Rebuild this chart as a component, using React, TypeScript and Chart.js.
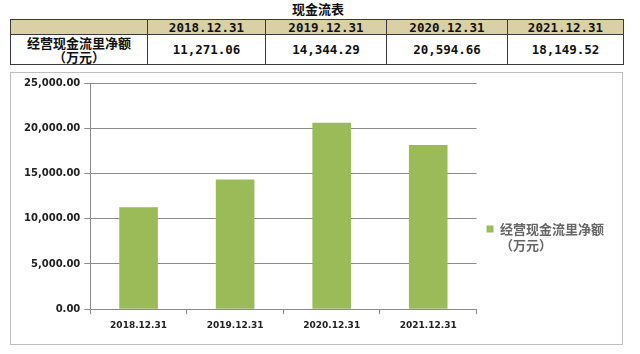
import React, { useEffect, useRef } from "react";
import { Chart, registerables } from "chart.js";

Chart.register(...registerables);

const title = "现金流表";
const rowLabelLines = ["经营现金流里净额", "（万元）"];
const categories = ["2018.12.31", "2019.12.31", "2020.12.31", "2021.12.31"];
const values = [11271.06, 14344.29, 20594.66, 18149.52];
const valueTexts = ["11,271.06", "14,344.29", "20,594.66", "18,149.52"];
const yMin = 0;
const yMax = 25000;
const yStep = 5000;

const GREEN = "#9BBB59";
const GRID = "#8C8C8C";
const HEADER_BG = "#D9D0A6";
const TABLE_BORDER = "#3A3A3A";

function fmt(v: number) {
  return v.toLocaleString("en-US", { minimumFractionDigits: 2, maximumFractionDigits: 2 });
}

export default function App() {
  const ref = useRef<HTMLCanvasElement | null>(null);

  useEffect(() => {
    if (!ref.current) return;
    const chart = new Chart(ref.current, {
      type: "bar",
      data: {
        labels: categories,
        datasets: [
          {
            label: rowLabelLines.join(""),
            data: values,
            backgroundColor: GREEN,
            borderWidth: 0,
            barPercentage: 0.4,
            categoryPercentage: 1,
          },
        ],
      },
      options: {
        responsive: false,
        animation: false,
        layout: { padding: { left: 9, top: 4, right: 8, bottom: 7 } },
        plugins: {
          tooltip: { enabled: false },
          legend: {
            position: "right",
            align: "center",
            title: { display: true, text: "", padding: { top: 48, bottom: 0 } },
            labels: {
              boxWidth: 7,
              boxHeight: 7,
              padding: 10,
              color: "#1a1a1a",
              font: { family: "'Noto Sans CJK SC'", size: 13, weight: "700" },
              generateLabels: () => [
                {
                  text: rowLabelLines as any,
                  fillStyle: GREEN,
                  strokeStyle: GREEN,
                  lineWidth: 0,
                  hidden: false,
                  datasetIndex: 0,
                } as any,
              ],
            },
          },
        },
        scales: {
          x: {
            offset: true,
            grid: {
              display: true,
              drawOnChartArea: false,
              drawTicks: true,
              tickLength: 5,
              color: GRID,
              offset: true,
            },
            border: { display: true, color: GRID },
            ticks: {
              color: "#222",
              padding: 6,
              maxRotation: 0,
              font: { family: "'DejaVu Sans'", size: 9, weight: "bold" },
            },
          },
          y: {
            min: yMin,
            max: yMax,
            grid: { color: GRID, tickLength: 6, drawTicks: true },
            border: { display: true, color: GRID },
            ticks: {
              stepSize: yStep,
              color: "#222",
              padding: 4,
              font: { family: "'DejaVu Sans'", size: 10, weight: "bold" },
              callback: (v: any) => fmt(Number(v)),
            },
          },
        },
      },
    });
    return () => chart.destroy();
  }, []);

  const colWidths = [137, 118, 121, 121, 116];
  const cellBase: React.CSSProperties = {
    border: `1px solid ${TABLE_BORDER}`,
    padding: 0,
    textAlign: "center",
    verticalAlign: "middle",
    fontWeight: "bold",
    color: "#111",
  };
  const monoFont = "'DejaVu Sans Mono', 'Liberation Mono', monospace";
  const cjkFont = "'Noto Sans CJK SC', sans-serif";

  return (
    <div
      style={{
        position: "fixed",
        left: 0,
        top: 0,
        width: 640,
        height: 354,
        background: "#fff",
        overflow: "hidden",
      }}
    >
      <div
        style={{
          position: "absolute",
          left: 0,
          top: 1,
          width: 636,
          textAlign: "center",
          fontFamily: cjkFont,
          fontWeight: "bold",
          fontSize: 13,
          lineHeight: "16px",
          color: "#111",
        }}
      >
        {title}
      </div>
      <table
        style={{
          position: "absolute",
          left: 10,
          top: 19,
          borderCollapse: "collapse",
          tableLayout: "fixed",
          width: 613,
        }}
      >
        <colgroup>
          {colWidths.map((w, i) => (
            <col key={i} style={{ width: w }} />
          ))}
        </colgroup>
        <tbody>
          <tr style={{ height: 15 }}>
            <td style={{ ...cellBase, background: HEADER_BG }} />
            {categories.map((c) => (
              <td
                key={c}
                style={{
                  ...cellBase,
                  background: HEADER_BG,
                  fontFamily: monoFont,
                  fontSize: 12.5,
                  lineHeight: "13px",
                }}
              >
                {c}
              </td>
            ))}
          </tr>
          <tr style={{ height: 30 }}>
            <td
              style={{
                ...cellBase,
                fontFamily: cjkFont,
                fontSize: 13,
                lineHeight: "14px",
              }}
            >
              {rowLabelLines[0]}
              <br />
              {rowLabelLines[1]}
            </td>
            {valueTexts.map((t, i) => (
              <td
                key={i}
                style={{
                  ...cellBase,
                  fontFamily: monoFont,
                  fontSize: 12.5,
                  lineHeight: "14px",
                }}
              >
                {t}
              </td>
            ))}
          </tr>
        </tbody>
      </table>
      <div
        style={{
          position: "absolute",
          left: 10,
          top: 72,
          width: 611,
          height: 271,
          border: "1px solid #BFBFBF",
        }}
      >
        <canvas ref={ref} width={611} height={271} style={{ display: "block" }} />
      </div>
    </div>
  );
}
